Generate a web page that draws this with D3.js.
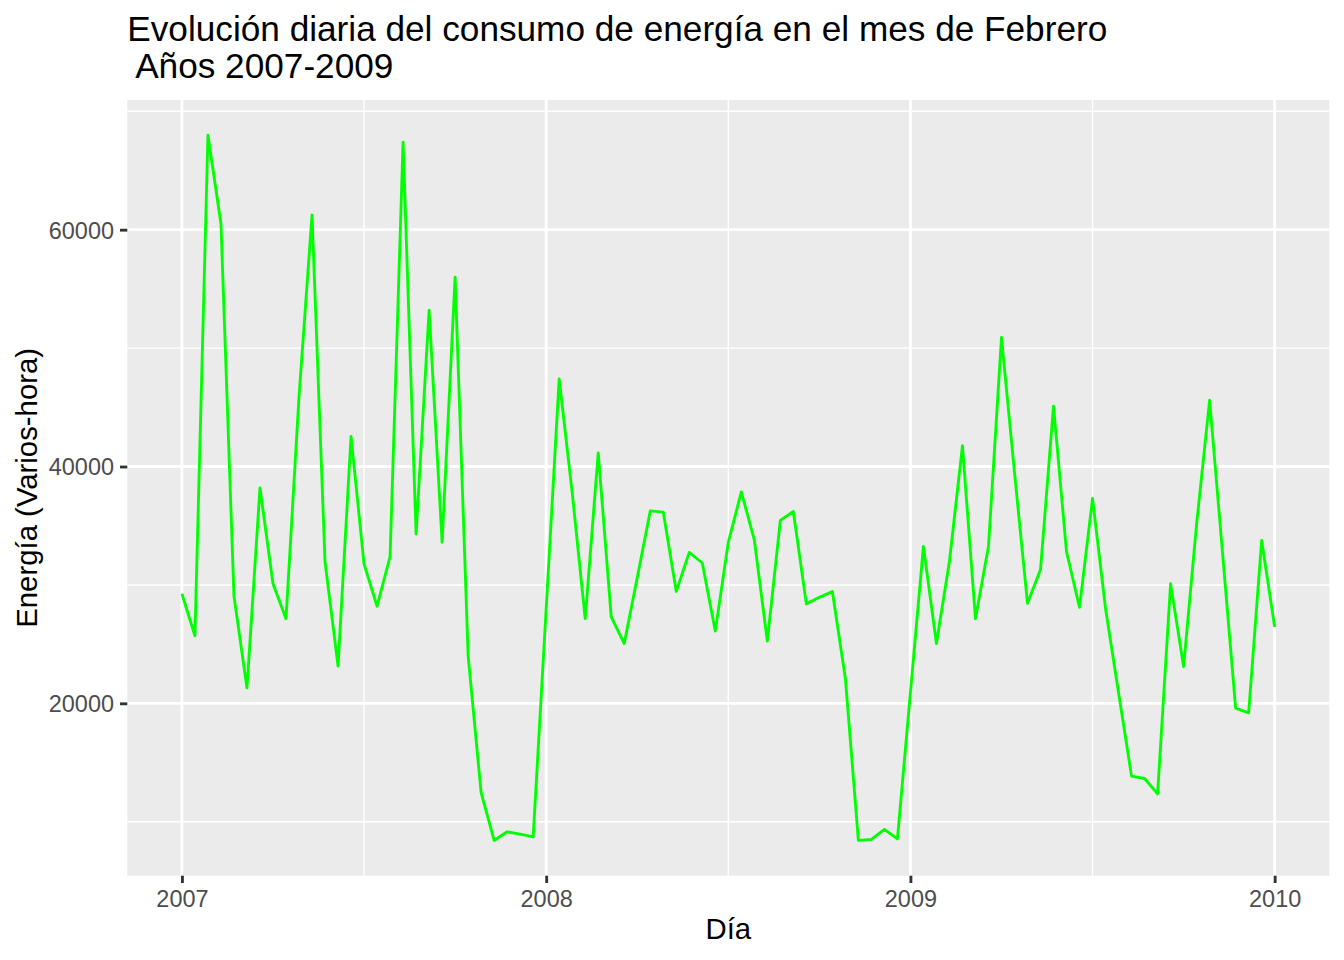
<!DOCTYPE html>
<html><head><meta charset="utf-8">
<script src="https://cdn.jsdelivr.net/npm/d3@7"></script>
<style>
body{margin:0;background:#fff}
text{font-family:"Liberation Sans", Arial, Helvetica, sans-serif}
</style>
</head><body>
<svg id="chart" width="1344" height="960"></svg>
<script>
const titleLines = ["Evolución diaria del consumo de energía en el mes de Febrero", " Años 2007-2009"];
const xLabel = "Día";
const yLabel = "Energía (Varios-hora)";
const energy2007 = [29250,25700,67975,60500,29050,21300,38200,30100,27150,45900,61250,31950,23150,42550,31750,28200,32400,67400,34300,53200,33600,56000,24000,12450,8420,9150,8950,8720];
const energy2008 = [28000,47400,37800,27150,41150,27300,25050,30600,36250,36150,29450,32750,31850,26100,33600,37850,33800,25250,35450,36200,28400,28950,29450,22100,8420,8500,9350,8550,20900];
const energy2009 = [33250,25050,32000,41750,27150,33250,50900,39500,28450,31300,45100,32800,28100,37300,28000,20900,13850,13650,12350,30100,23100,35150,45600,32600,19600,19200,33750,26450];
const xStart = 2007, xEnd = 2010;
const xTicks = [2007, 2008, 2009, 2010];
const xMinor = [2007.5, 2008.5, 2009.5];
const yTicks = [20000, 40000, 60000];
const yMinor = [10000, 30000, 50000, 70000];

const values = energy2007.concat(energy2008, energy2009);
const n = values.length;
const data = values.map((v, i) => ({x: xStart + i * (xEnd - xStart) / (n - 1), y: v}));

const svg = d3.select("#chart");
const panel = {left: 127.3, right: 1329.3, top: 100, bottom: 875.7};

const xExt = d3.extent(data, d => d.x), yExt = d3.extent(data, d => d.y);
const xPad = (xExt[1] - xExt[0]) * 0.05, yPad = (yExt[1] - yExt[0]) * 0.05;
const x = d3.scaleLinear().domain([xExt[0] - xPad, xExt[1] + xPad]).range([panel.left, panel.right]);
const y = d3.scaleLinear().domain([yExt[0] - yPad, yExt[1] + yPad]).range([panel.bottom, panel.top]);

const major = 2.85, minor = 1.42;

svg.append("rect").attr("x", panel.left).attr("y", panel.top)
  .attr("width", panel.right - panel.left).attr("height", panel.bottom - panel.top)
  .attr("fill", "#EBEBEB");

const grid = svg.append("g");
grid.selectAll(".ymin").data(yMinor.filter(v => y(v) >= panel.top && y(v) <= panel.bottom)).join("line")
  .attr("x1", panel.left).attr("x2", panel.right).attr("y1", d => y(d)).attr("y2", d => y(d))
  .attr("stroke", "#fff").attr("stroke-width", minor);
grid.selectAll(".xmin").data(xMinor).join("line")
  .attr("y1", panel.top).attr("y2", panel.bottom).attr("x1", d => x(d)).attr("x2", d => x(d))
  .attr("stroke", "#fff").attr("stroke-width", minor);
grid.selectAll(".ymaj").data(yTicks).join("line")
  .attr("x1", panel.left).attr("x2", panel.right).attr("y1", d => y(d)).attr("y2", d => y(d))
  .attr("stroke", "#fff").attr("stroke-width", major);
grid.selectAll(".xmaj").data(xTicks).join("line")
  .attr("y1", panel.top).attr("y2", panel.bottom).attr("x1", d => x(d)).attr("x2", d => x(d))
  .attr("stroke", "#fff").attr("stroke-width", major);

const line = d3.line().x(d => x(d.x)).y(d => y(d.y));
svg.append("path").datum(data).attr("d", line)
  .attr("fill", "none").attr("stroke", "#00FF00").attr("stroke-width", 2.85)
  .attr("stroke-linejoin", "round").attr("stroke-linecap", "butt");

// axes
const xAxis = d3.axisBottom(x).tickValues(xTicks).tickFormat(d3.format("d")).tickSize(7.33).tickPadding(6);
const gx = svg.append("g").attr("transform", `translate(0,${panel.bottom})`).call(xAxis);
gx.select(".domain").remove();
gx.selectAll(".tick line").attr("stroke", "#333333").attr("stroke-width", major);
gx.selectAll(".tick text").attr("fill", "#4D4D4D").attr("font-size", 23.47)
  .attr("font-family", "Liberation Sans, Arial, sans-serif").attr("dy", null).attr("y", 31);

const yAxis = d3.axisLeft(y).tickValues(yTicks).tickFormat(d3.format("d")).tickSize(7.33).tickPadding(6);
const gy = svg.append("g").attr("transform", `translate(${panel.left},0)`).call(yAxis);
gy.select(".domain").remove();
gy.selectAll(".tick line").attr("stroke", "#333333").attr("stroke-width", major);
gy.selectAll(".tick text").attr("fill", "#4D4D4D").attr("font-size", 23.47)
  .attr("font-family", "Liberation Sans, Arial, sans-serif").attr("dy", "0.36em").attr("x", -13.3);

// titles
const t = svg.append("text").attr("x", panel.left).attr("font-size", 35.2).attr("fill", "#000")
  .style("white-space", "pre").attr("xml:space", "preserve");
titleLines.forEach((s, i) => t.append("tspan").attr("x", panel.left).attr("y", i === 0 ? 40.7 : 78.3).text(s));

svg.append("text").attr("x", (panel.left + panel.right) / 2).attr("y", 939)
  .attr("text-anchor", "middle").attr("font-size", 29.33).attr("fill", "#000").text(xLabel);

svg.append("text").attr("transform", `translate(37,${(panel.top + panel.bottom) / 2}) rotate(-90)`)
  .attr("text-anchor", "middle").attr("font-size", 29.33).attr("fill", "#000").text(yLabel);
</script>
</body></html>
